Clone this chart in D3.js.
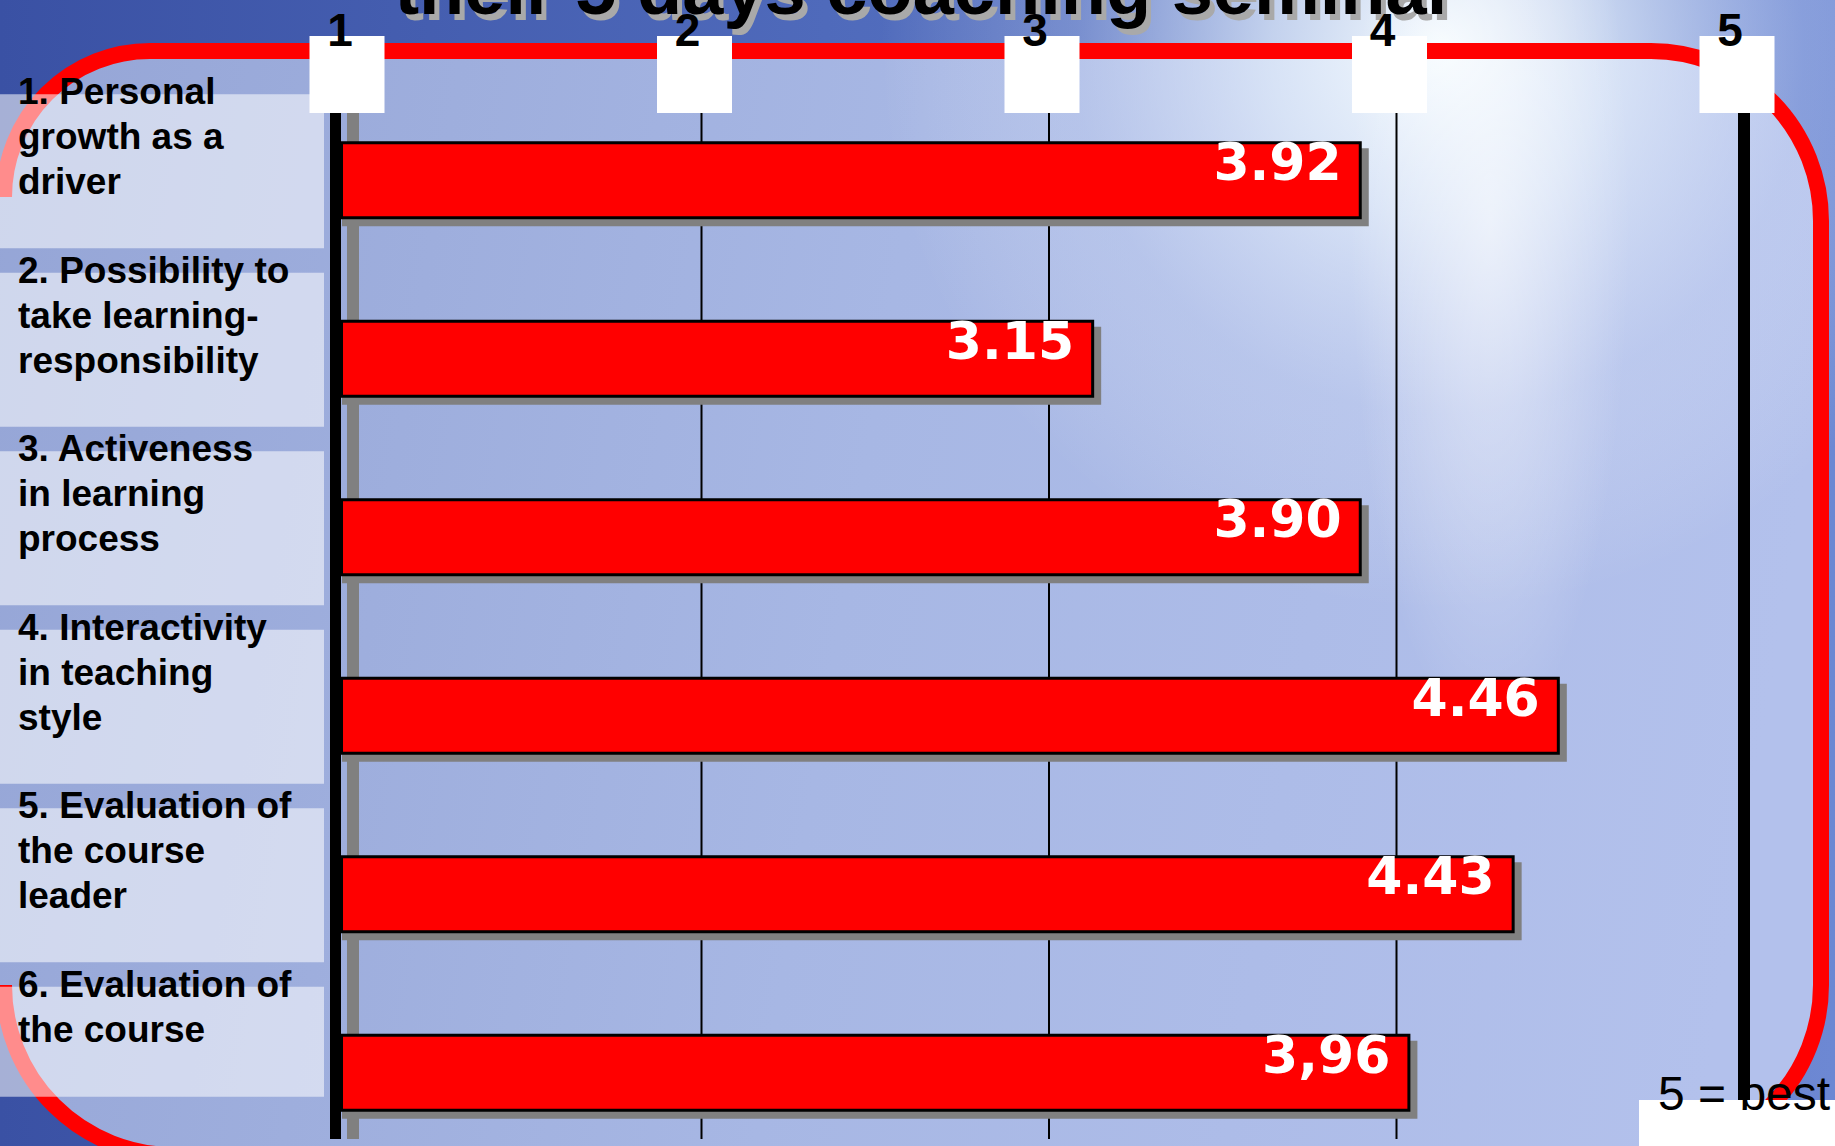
<!DOCTYPE html>
<html>
<head>
<meta charset="utf-8">
<script src="https://cdn.jsdelivr.net/npm/d3@7"></script>
<style>
  html, body { margin: 0; padding: 0; overflow: hidden; background: #3b53a6; }
  svg { display: block; }
</style>
</head>
<body>
<div id="chart"></div>
<script>
const W = 1835, H = 1146;

// chart data
const title = "their 5 days coaching seminar";
const categoryLines = [
  ["1. Personal", "growth as a", "driver"],
  ["2. Possibility to", "take learning-", "responsibility"],
  ["3. Activeness", "in learning", "process"],
  ["4. Interactivity", "in teaching", "style"],
  ["5. Evaluation of", "the course", "leader"],
  ["6. Evaluation of", "the course"],
];
// bar lengths as drawn (the slide's bars are not exactly to scale with their labels)
const barLengths = [3.90, 3.13, 3.90, 4.47, 4.34, 4.04];
const valueLabels = ["3.92", "3.15", "3.90", "4.46", "4.43", "3,96"];
const tickValues = [1, 2, 3, 4, 5];
const tickLabels = ["1", "2", "3", "4", "5"];
const note = "5 = best";

const AXIS_TOP = 113, AXIS_BOTTOM = 1139;
const SHADOW = 7;

const svg = d3.select("#chart").append("svg")
  .attr("width", W)
  .attr("height", H)
  .attr("viewBox", [0, 0, W, H]);

const x = d3.scaleLinear().domain([1, 5]).range([354, 1744]);
const y = d3.scaleBand()
  .domain(d3.range(categoryLines.length))
  .range([91, 1162])
  .paddingInner(0.563)
  .paddingOuter(0.2815);

// --- gradients for the slide background
const defs = svg.append("defs");
const bg = defs.append("linearGradient").attr("id", "bg")
  .attr("gradientUnits", "userSpaceOnUse").attr("x1", 0).attr("x2", W).attr("y1", 0).attr("y2", 0);
bg.append("stop").attr("offset", 0).attr("stop-color", "#3a51a4");
bg.append("stop").attr("offset", 0.45).attr("stop-color", "#4f6abb");
bg.append("stop").attr("offset", 1).attr("stop-color", "#6d88d3");

const inner = defs.append("linearGradient").attr("id", "inner")
  .attr("gradientUnits", "userSpaceOnUse").attr("x1", 0).attr("x2", W).attr("y1", 0).attr("y2", 300);
inner.append("stop").attr("offset", 0).attr("stop-color", "#95a5d6");
inner.append("stop").attr("offset", 0.5).attr("stop-color", "#a7b7e4");
inner.append("stop").attr("offset", 1).attr("stop-color", "#b3c1ec");

const sun = defs.append("radialGradient").attr("id", "sun")
  .attr("gradientUnits", "userSpaceOnUse").attr("cx", 1440).attr("cy", 50).attr("r", 560);
sun.append("stop").attr("offset", 0).attr("stop-color", "#f6fcff").attr("stop-opacity", 1);
sun.append("stop").attr("offset", 0.3).attr("stop-color", "#e6f0fb").attr("stop-opacity", 0.75);
sun.append("stop").attr("offset", 0.65).attr("stop-color", "#dde6f8").attr("stop-opacity", 0.25);
sun.append("stop").attr("offset", 1).attr("stop-color", "#ffffff").attr("stop-opacity", 0);

const beam = defs.append("radialGradient").attr("id", "beam");
beam.append("stop").attr("offset", 0).attr("stop-color", "#ffffff").attr("stop-opacity", 0.55);
beam.append("stop").attr("offset", 1).attr("stop-color", "#ffffff").attr("stop-opacity", 0);

svg.append("rect").attr("width", W).attr("height", H).attr("fill", "url(#bg)");

// rounded frame; its bottom edge runs just below the slide
const fr = { left: 4, top: 51, right: 1821, bottom: 1155, rTL: 146, rBL: 170, rR: 170 };

function framePath(closed) {
  const p = d3.path();
  p.moveTo(fr.left + fr.rTL, fr.top);
  p.lineTo(fr.right - fr.rR, fr.top);
  p.arc(fr.right - fr.rR, fr.top + fr.rR, fr.rR, -Math.PI / 2, 0);
  p.lineTo(fr.right, fr.bottom - fr.rR);
  p.arc(fr.right - fr.rR, fr.bottom - fr.rR, fr.rR, 0, Math.PI / 2);
  p.lineTo(fr.left + fr.rBL, fr.bottom);
  p.arc(fr.left + fr.rBL, fr.bottom - fr.rBL, fr.rBL, Math.PI / 2, Math.PI);
  // the straight left side is hidden behind the label column
  if (closed) p.lineTo(fr.left, fr.top + fr.rTL);
  else p.moveTo(fr.left, fr.top + fr.rTL);
  p.arc(fr.left + fr.rTL, fr.top + fr.rTL, fr.rTL, Math.PI, Math.PI * 1.5);
  if (closed) p.closePath();
  return p.toString();
}

svg.append("path").attr("d", framePath(true)).attr("fill", "url(#inner)");
svg.append("rect")
  .attr("x", 0).attr("y", fr.top + fr.rTL).attr("width", fr.rTL)
  .attr("height", fr.bottom - fr.top - fr.rTL - fr.rBL)
  .attr("fill", "url(#inner)");

svg.append("rect").attr("width", W).attr("height", H).attr("fill", "url(#sun)");
svg.append("ellipse")
  .attr("cx", 1490).attr("cy", 220).attr("rx", 140).attr("ry", 520)
  .attr("fill", "url(#beam)");

// title, cut by the top of the slide
const titleG = svg.append("g")
  .attr("font-family", "'Liberation Sans', Arial, sans-serif")
  .attr("font-weight", "bold").attr("font-size", "74px").attr("text-anchor", "middle");
titleG.append("text").attr("x", 930).attr("y", 20).attr("fill", "#a9a9a9").text(title);
titleG.append("text").attr("x", 925).attr("y", 14).attr("fill", "#000").text(title);

svg.append("path").attr("d", framePath(false))
  .attr("fill", "none").attr("stroke", "#ff0000").attr("stroke-width", 16);

// category boxes on the left
const labelG = svg.append("g")
  .attr("font-family", "'Liberation Sans', Arial, sans-serif")
  .attr("font-weight", "bold").attr("font-size", "37px").attr("fill", "#000");

categoryLines.forEach((lines, i) => {
  const top = y(i) - 47;
  labelG.append("rect")
    .attr("x", 0).attr("y", top).attr("width", 324).attr("height", 22 + lines.length * 44)
    .attr("fill", "#ffffff").attr("fill-opacity", 0.55);
  const t = labelG.append("text").attr("x", 18).attr("y", top + 10);
  lines.forEach((line, j) => {
    t.append("tspan").attr("x", 18).attr("dy", j === 0 ? 0 : 45).text(line);
  });
});

// grid lines
svg.append("g").selectAll("line")
  .data(tickValues.filter(v => v > 1 && v < 5))
  .join("line")
  .attr("x1", d => x(d)).attr("x2", d => x(d))
  .attr("y1", AXIS_TOP).attr("y2", AXIS_BOTTOM)
  .attr("stroke", "#000").attr("stroke-width", 2);

// value axis at 1 with its shadow
svg.append("rect")
  .attr("x", x(1) - 7).attr("y", AXIS_TOP).attr("width", 12).attr("height", AXIS_BOTTOM - AXIS_TOP)
  .attr("fill", "#808080");
svg.append("rect")
  .attr("x", x(1) - 24).attr("y", AXIS_TOP).attr("width", 11).attr("height", AXIS_BOTTOM - AXIS_TOP)
  .attr("fill", "#000");

const barX0 = x(1) - 14;

// bar shadows and bars
svg.append("g").selectAll("rect")
  .data(barLengths)
  .join("rect")
  .attr("x", barX0 + 2)
  .attr("y", (d, i) => y(i) + SHADOW)
  .attr("width", d => x(d) - barX0 - 2 + SHADOW)
  .attr("height", y.bandwidth())
  .attr("fill", "#808080");

svg.append("g").selectAll("rect")
  .data(barLengths)
  .join("rect")
  .attr("x", barX0 + 1.5)
  .attr("y", (d, i) => y(i) + 1.5)
  .attr("width", d => x(d) - barX0 - 3)
  .attr("height", y.bandwidth() - 3)
  .attr("fill", "#ff0000")
  .attr("stroke", "#000")
  .attr("stroke-width", 3);

svg.append("g")
  .attr("font-family", "'DejaVu Sans', Verdana, sans-serif")
  .attr("font-weight", "bold").attr("font-size", "52px").attr("fill", "#fff")
  .attr("text-anchor", "end")
  .selectAll("text")
  .data(barLengths)
  .join("text")
  .attr("x", d => x(d) - 20)
  .attr("y", (d, i) => y(i) + 39)
  .text((d, i) => valueLabels[i]);

// white tick boxes and tick numbers on top
svg.append("g").selectAll("rect")
  .data(tickValues)
  .join("rect")
  .attr("x", d => x(d) - 7 - 37.5).attr("y", 36)
  .attr("width", 75).attr("height", 77)
  .attr("fill", "#fff");

svg.append("g")
  .attr("font-family", "'Liberation Sans', Arial, sans-serif")
  .attr("font-weight", "bold").attr("font-size", "46px").attr("fill", "#000")
  .attr("text-anchor", "middle")
  .selectAll("text")
  .data(tickValues)
  .join("text")
  .attr("x", d => x(d) - 14).attr("y", 46)
  .text((d, i) => tickLabels[i]);

// end line at 5
svg.append("rect")
  .attr("x", x(5) - 6).attr("y", AXIS_TOP).attr("width", 12).attr("height", H - AXIS_TOP)
  .attr("fill", "#000");

// note box bottom right
svg.append("rect").attr("x", 1639).attr("y", 1100).attr("width", W - 1639).attr("height", H - 1100)
  .attr("fill", "#fff");
svg.append("text")
  .attr("x", 1658).attr("y", 1110)
  .attr("font-family", "'Liberation Sans', Arial, sans-serif")
  .attr("font-size", "48px").attr("fill", "#000")
  .text(note);
</script>
</body>
</html>
